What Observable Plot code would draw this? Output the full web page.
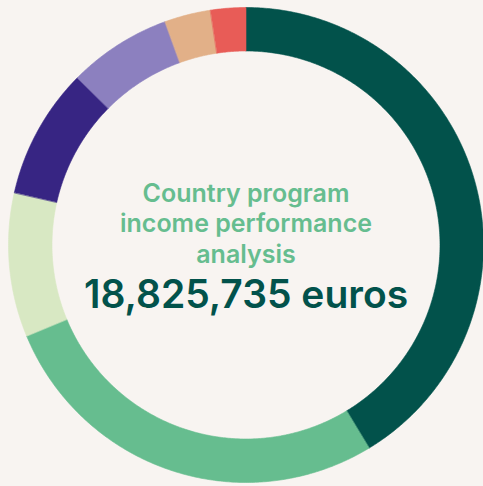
<!DOCTYPE html>
<html>
<head>
<meta charset="utf-8">
<script src="https://cdn.jsdelivr.net/npm/d3@7"></script>
<script src="https://cdn.jsdelivr.net/npm/@observablehq/plot@0.6"></script>
<style>
  html, body { margin: 0; padding: 0; background: #f8f4f1; }
  #chart { width: 483px; height: 486px; }
</style>
</head>
<body>
<div id="chart"></div>
<script>
// Data
const categories = ["Source A", "Source B", "Source C", "Source D", "Source E", "Source F", "Source G"];
const values = [7781300, 5161300, 1843300, 1676000, 1323000, 591000, 449835];
const colors = ["#02524b", "#66bd8f", "#d8e8c3", "#372583", "#8c80bf", "#e2b088", "#e85c57"];
const titleLines = ["Country program", "income performance", "analysis"];
const totalLabel = "18,825,735 euros";

// Geometry constants (pixel units; scales are 1:1)
const W = 483, H = 486;
const cx = 245.5, cy = 244.5;
const rOuter = 237.5, rInner = 194;

const pie = d3.pie().sort(null).value(d => d.value);
const arcs = pie(categories.map((c, i) => ({category: c, value: values[i]})));

const pts = [];
for (const a of arcs) {
  const n = Math.max(4, Math.ceil((a.endAngle - a.startAngle) / (Math.PI / 360)));
  for (let k = 0; k <= n; k++) {
    const t = a.startAngle + (a.endAngle - a.startAngle) * k / n;
    pts.push({category: a.data.category, x: rOuter * Math.sin(t), y: rOuter * Math.cos(t)});
  }
  for (let k = n; k >= 0; k--) {
    const t = a.startAngle + (a.endAngle - a.startAngle) * k / n;
    pts.push({category: a.data.category, x: rInner * Math.sin(t), y: rInner * Math.cos(t)});
  }
}

const chart = Plot.plot({
  width: W,
  height: H,
  margin: 0,
  style: {background: "#f8f4f1", fontFamily: "Inter, sans-serif"},
  x: {domain: [-cx, W - cx], axis: null},
  y: {domain: [-(H - cy), cy], axis: null},
  color: {domain: categories, range: colors},
  marks: [
    Plot.line(pts, {x: "x", y: "y", z: "category", fill: "category", stroke: "category", strokeWidth: 0.6, curve: "linear-closed"}),
    Plot.text([titleLines.join("\n")], {x: () => 0, y: () => 0, text: d => d,
      fill: "#66bd8f", fontSize: 25, fontWeight: 600, textAnchor: "middle", lineAnchor: "middle",
      lineHeight: 1.22, dy: -22.5}),
    Plot.text([totalLabel], {x: () => 0, y: () => 0, text: d => d, fill: "#02524b", fontSize: 39, fontWeight: 600,
      textAnchor: "middle", lineAnchor: "middle", dy: 50.5})
  ]
});

document.getElementById("chart").appendChild(chart);
</script>
</body>
</html>
